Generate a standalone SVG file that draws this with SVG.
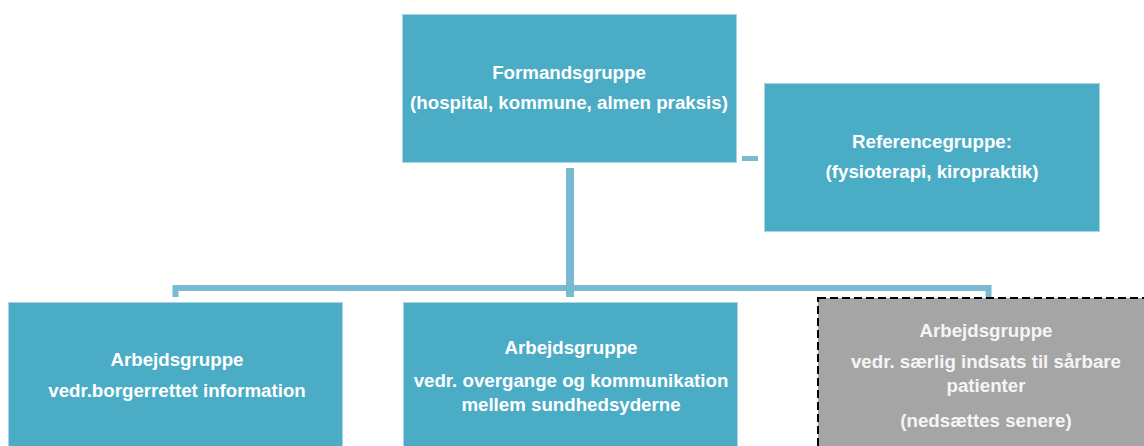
<svg xmlns="http://www.w3.org/2000/svg" width="1144" height="446" viewBox="0 0 1144 446">
<style>
.box{fill:#4BACC6;stroke:#A8D5E2;stroke-width:1}
.gray{fill:#A5A5A5;stroke:#000;stroke-width:2;stroke-dasharray:8 4}
.t{font-family:"Liberation Sans",Arial,sans-serif;font-weight:bold;font-size:18.7px;fill:#FFFFFF;text-anchor:middle}
.tg{fill:#F5F5F5}
.conn{fill:none;stroke:#78BAD0}
</style>
<rect width="1144" height="446" fill="#FFFFFF"/>
<g id="connectors">
<path class="conn" d="M570 168 V297" stroke-width="8"/>
<path class="conn" d="M175.5 297 V288 H988.5 V298" stroke-width="6"/>
<path class="conn" d="M742 158.5 H758" stroke-width="5"/>
</g>
<g id="formandsgruppe">
<rect class="box" x="402.5" y="14.5" width="334" height="148"/>
<text class="t" x="569" y="79">Formandsgruppe</text>
<text class="t" x="569" y="109">(hospital, kommune, almen praksis)</text>
</g>
<g id="referencegruppe">
<rect class="box" x="764.5" y="83.5" width="335" height="148"/>
<text class="t" x="932" y="148">Referencegruppe:</text>
<text class="t" x="932" y="178">(fysioterapi, kiropraktik)</text>
</g>
<g id="arbejdsgruppe-information">
<rect class="box" x="8.5" y="302.5" width="334" height="150"/>
<text class="t" x="177" y="366">Arbejdsgruppe</text>
<text class="t" x="177" y="397">vedr.borgerrettet information</text>
</g>
<g id="arbejdsgruppe-overgange">
<rect class="box" x="403.5" y="302.5" width="334" height="150"/>
<text class="t" x="571" y="354">Arbejdsgruppe</text>
<text class="t" x="571" y="387">vedr. overgange og kommunikation</text>
<text class="t" x="571" y="411">mellem sundhedsyderne</text>
</g>
<g id="arbejdsgruppe-saarbare">
<rect class="gray" x="818" y="298" width="340" height="160"/>
<text class="t tg" x="986" y="337">Arbejdsgruppe</text>
<text class="t tg" x="986" y="368">vedr. særlig indsats til sårbare</text>
<text class="t tg" x="986" y="392">patienter</text>
<text class="t tg" x="986" y="427">(nedsættes senere)</text>
</g>
</svg>
